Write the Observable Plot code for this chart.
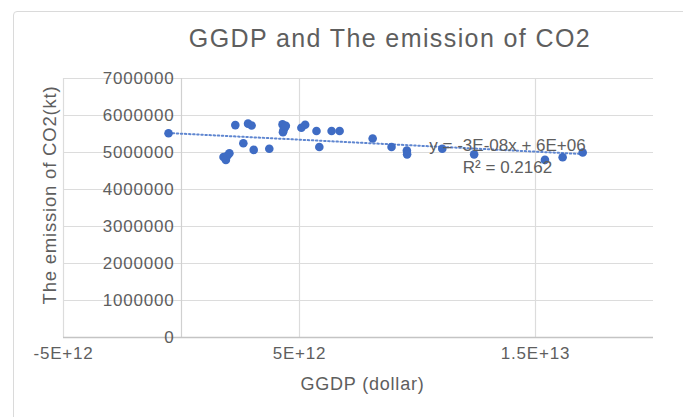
<!DOCTYPE html>
<html>
<head>
<meta charset="utf-8">
<script src="https://cdn.jsdelivr.net/npm/d3@7"></script>
<script src="https://cdn.jsdelivr.net/npm/@observablehq/plot@0.6"></script>
<style>
  html, body { margin: 0; padding: 0; background: #fff; }
  body { width: 683px; height: 417px; position: relative; overflow: hidden;
         font-family: "Liberation Sans", Arial, Helvetica, sans-serif; }
  #frame { position: absolute; left: 13px; top: 11px; width: 720px; height: 440px;
           border: 1px solid #dadada; border-radius: 4px; }
  #title { position: absolute; left: 0; top: 26px; width: 780px; text-align: center;
           font-size: 25px; line-height: 1; color: #5e5e5e; letter-spacing: 1.4px; }
  #chart { position: absolute; left: 0; top: 62px; }
  #chart svg text { letter-spacing: 0.8px; }
  #chart svg g.trend-label text { letter-spacing: 0; }
</style>
</head>
<body>
<div id="frame"></div>
<div id="title">GGDP and The emission of CO2</div>
<div id="chart"></div>
<script>
// GGDP (dollar) and CO2 emission (kt), one pair per year
const ggdp = [
  -0.55e12, 1.78e12, 1.88e12, 1.95e12, 2.03e12, 2.28e12, 2.62e12, 2.82e12,
  2.97e12, 3.06e12, 3.72e12, 4.28e12, 4.32e12, 4.38e12, 4.30e12, 4.42e12,
  5.08e12, 5.24e12, 5.72e12, 5.84e12, 6.36e12, 6.70e12, 8.10e12, 8.90e12,
  9.55e12, 9.56e12, 11.05e12, 12.40e12, 15.40e12, 16.15e12, 17.00e12
];
const co2 = [
  5520000, 4880000, 4800000, 4920000, 4980000, 5740000, 5250000, 5780000,
  5730000, 5070000, 5100000, 5760000, 5600000, 5680000, 5550000, 5720000,
  5670000, 5750000, 5580000, 5150000, 5580000, 5580000, 5380000, 5150000,
  5050000, 4950000, 5100000, 4950000, 4800000, 4870000, 5000000
];

// Axis ticks and labels
const yTicks = [0, 1000000, 2000000, 3000000, 4000000, 5000000, 6000000, 7000000];
const xTicks = [-5e12, 5e12, 1.5e13];
const xTickLabels = ["-5E+12", "5E+12", "1.5E+13"];

// Trendline annotation
const trendLabel = "y = -3E-08x + 6E+06\nR² = 0.2162";

const data = ggdp.map((g, i) => ({ggdp: g, co2: co2[i]}));
const textColor = "#5e5e5e";
const gridColor = "#dcdcdc";

const chart = Plot.plot({
  width: 683,
  height: 355,
  marginTop: 16,
  marginBottom: 80,
  marginLeft: 63,
  marginRight: 30,
  style: {
    fontFamily: "'Liberation Sans', Arial, Helvetica, sans-serif",
    fontSize: "17px",
    color: textColor,
    background: "transparent",
    overflow: "visible"
  },
  x: {domain: [-5e12, 2e13], axis: null},
  y: {domain: [0, 7e6], axis: null},
  marks: [
    // horizontal gridlines
    Plot.ruleY(yTicks.filter(d => d > 0), {stroke: gridColor, strokeWidth: 1.2}),
    // vertical gridlines at the labelled ticks, plus the value axis at x = 0
    Plot.ruleX(xTicks, {stroke: gridColor, strokeWidth: 1.2}),
    Plot.ruleX([0], {stroke: "#d0d0d0", strokeWidth: 1.2}),
    // category axis line
    Plot.ruleY([0], {stroke: "#c4c4c4", strokeWidth: 1.5}),
    // value tick labels drawn beside the axis at x = 0
    Plot.text(yTicks, {
      x: 0, y: d => d, text: d => String(d),
      textAnchor: "end", dx: -7, fill: textColor
    }),
    // category tick labels
    Plot.text(xTicks, {
      x: d => d, frameAnchor: "bottom", dy: 21,
      text: (d, i) => xTickLabels[i], textAnchor: "middle", fill: textColor
    }),
    // linear trendline (dotted)
    Plot.linearRegressionY(data, {
      x: "ggdp", y: "co2", ci: 0,
      stroke: "#5f86d0", strokeWidth: 2, strokeDasharray: "1.5,2.6"
    }),
    // observations
    Plot.dot(data, {x: "ggdp", y: "co2", r: 4.3, fill: "#3f6cc4", stroke: "none"}),
    // trendline equation
    Plot.text([trendLabel], {
      frameAnchor: "top-right", dx: -146, dy: 76,
      textAnchor: "middle", lineAnchor: "middle", lineHeight: 1.3,
      fill: textColor, className: "trend-label"
    }),
    // axis titles
    Plot.text(["GGDP (dollar)"], {
      frameAnchor: "bottom", dx: 4, dy: 52, fontSize: 18, textAnchor: "middle",
      fill: textColor
    }),
    Plot.text(["The emission of CO2(kt)"], {
      frameAnchor: "left", dx: -13, dy: -13, rotate: -90, fontSize: 18.5,
      textAnchor: "middle", fill: textColor
    })
  ]
});

document.getElementById("chart").appendChild(chart);
</script>
</body>
</html>
